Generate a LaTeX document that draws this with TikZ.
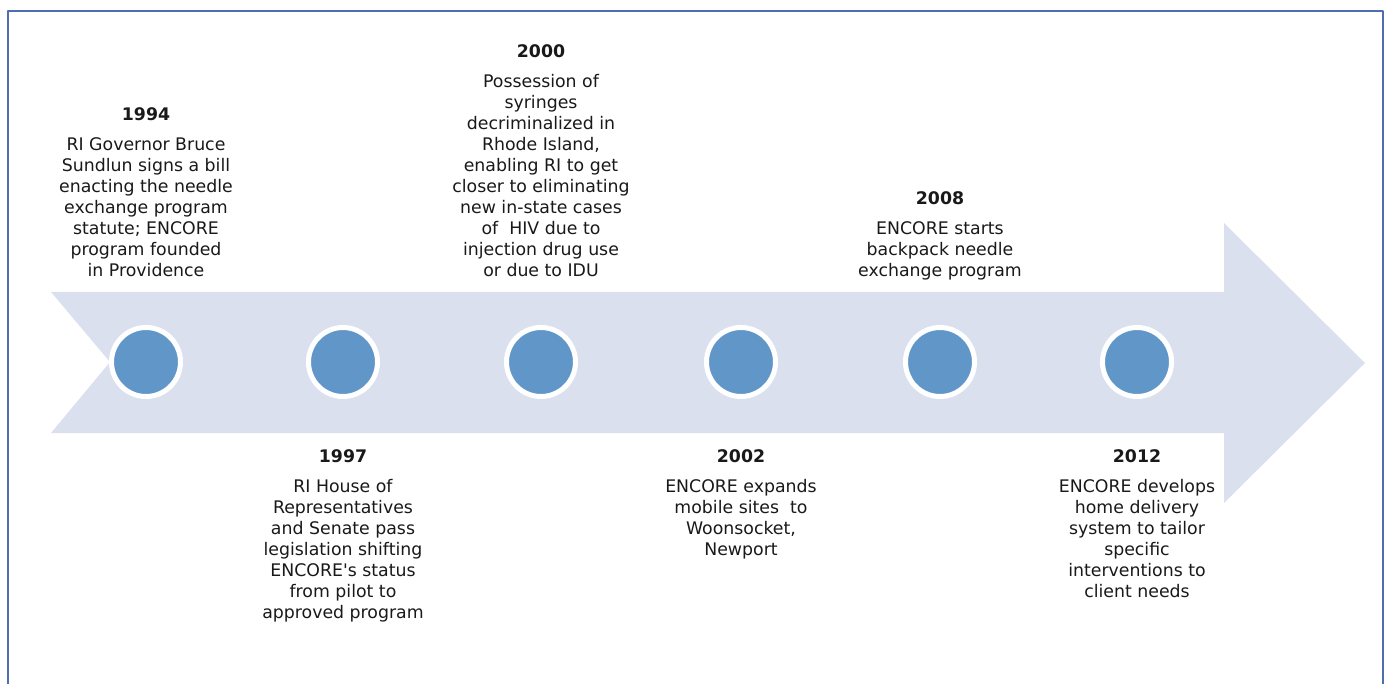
\documentclass[tikz,border=0pt]{standalone}
\usepackage{fontspec}
\setmainfont{DejaVu Sans}
\usepackage{xcolor}
\usetikzlibrary{positioning}
\definecolor{shaftfill}{HTML}{DAE0EE}
\definecolor{dotblue}{HTML}{6196C9}
\definecolor{framecol}{HTML}{4F6EB0}
\tikzset{
  yeardot/.style={circle, fill=dotblue, draw=white, line width=3.75pt, minimum size=51.75pt, inner sep=0pt},
  evt/.style={align=center, inner sep=0pt, text=black!90, font=\fontsize{13}{15.75}\selectfont},
  every picture/.style={line cap=round, line join=round}
}

\begin{document}
\begin{tikzpicture}[x=0.75pt, y=-0.75pt]
  \useasboundingbox (0,0) rectangle (1385,684);
  % frame, open at the bottom
  \draw[framecol, line width=1.5pt, line cap=butt] (8,684) -- (8,11) -- (1383,11) -- (1383,684);
  % the big arrow
  \fill[shaftfill] (51,292) -- (1224,292) -- (1224,223) -- (1365,363)
    -- (1224,503) -- (1224,433) -- (51,433) -- (110,362) -- cycle;
  % milestones
  \node[yeardot] (d94) at (146,362) {};
  \node[yeardot] (d97) at (343,362) {};
  \node[yeardot] (d00) at (541,362) {};
  \node[yeardot] (d02) at (741,362) {};
  \node[yeardot] (d08) at (940,362) {};
  \node[yeardot] (d12) at (1137,362) {};
  \node[evt, above=36pt of d94] (t94) {\textbf{1994}\\[6.5pt]RI Governor Bruce\\Sundlun signs a bill\\enacting the needle\\exchange program\\statute; ENCORE\\program founded\\in Providence};
  \node[evt, above=36pt of d00] (t00) {\textbf{2000}\\[6.5pt]Possession of\\syringes\\decriminalized in\\Rhode Island,\\enabling RI to get\\closer to eliminating\\new in-state cases\\of \ HIV due to\\injection drug use\\or due to IDU};
  \node[evt, above=33.5pt of d08] (t08) {\textbf{2008}\\[6.5pt]ENCORE starts\\backpack needle\\exchange program};
  \node[evt, below=38pt of d97] (t97) {\textbf{1997}\\[6.5pt]RI House of\\Representatives\\and Senate pass\\legislation shifting\\ENCORE\textquotesingle s status\\from pilot to\\approved program};
  \node[evt, below=38pt of d02] (t02) {\textbf{2002}\\[6.5pt]ENCORE expands\\mobile sites \ to\\Woonsocket,\\Newport};
  \node[evt, below=38pt of d12] (t12) {\textbf{2012}\\[6.5pt]ENCORE develops\\home delivery\\system to tailor\\specific\\interventions to\\client needs};
\end{tikzpicture}
\end{document}
